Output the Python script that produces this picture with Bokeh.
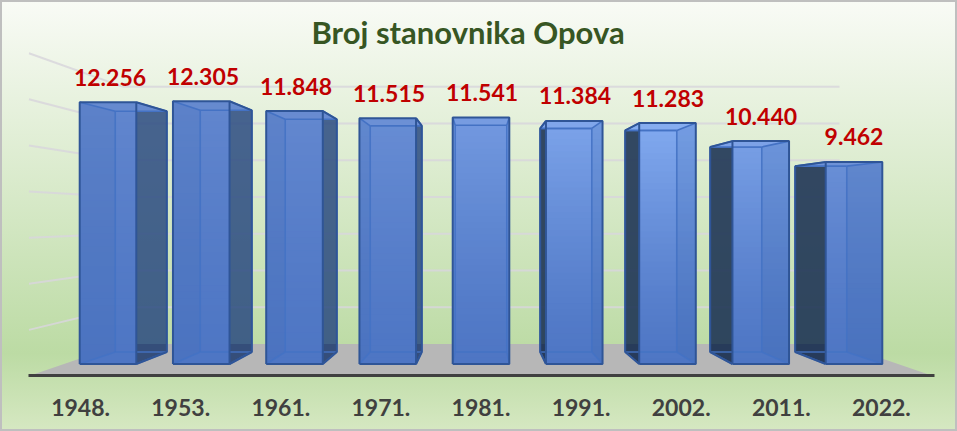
from bokeh.plotting import figure
from bokeh.embed import file_html
from bokeh.resources import INLINE
from bokeh.models import LinearAxis, Range1d, FixedTicker, Title, ColumnDataSource
from bokeh.core.properties import value

years = ["1948.", "1953.", "1961.", "1971.", "1981.", "1991.", "2002.", "2011.", "2022."]
population = [12256, 12305, 11848, 11515, 11541, 11384, 11283, 10440, 9462]
value_labels = ["12.256", "12.305", "11.848", "11.515", "11.541", "11.384", "11.283", "10.440", "9.462"]
grid_values = [0, 2000, 4000, 6000, 8000, 10000, 12000, 14000]
title_text = "Broj stanovnika Opova"

W, H = 957, 431
FL, FR, FT, FB = 28, 934, 50, 375      # plot frame edges in page pixels
CENTER_PX = 480.5
PX_PER_CAT = 93.25
PX_PER_VAL = 0.02135
MID = 4.0
BASE = 363.5

x_range = Range1d(MID + (FL - CENTER_PX) / PX_PER_CAT, MID + (FR - CENTER_PX) / PX_PER_CAT)
y_range = Range1d((BASE - FB) / PX_PER_VAL, (BASE - FT) / PX_PER_VAL)

p = figure(width=W, height=H, x_range=x_range, y_range=y_range, output_backend="svg",
           toolbar_location=None, x_axis_location=None, y_axis_location=None,
           min_border_left=FL, min_border_right=W - FR, min_border_top=FT, min_border_bottom=H - FB)
p.background_fill_alpha = 0
p.border_fill_alpha = 0
p.outline_line_alpha = 0
p.grid.visible = False
p.styles = {
    "position": "absolute", "left": "0", "top": "0",
    "background": "linear-gradient(180deg,#F9FBF6 0%,#BCDBA4 82%,#D6E8C2 100%)",
    "box-shadow": "inset 0 0 0 2px #BFBFBF",
}

# perspective planes: (category scale, value scale, value shift in px)
WALL_FRONT = (0.9715, 1.08, -12)
WALL_BACK = (0.7705, 0.861, 20)
BAR_FRONT = (1.0, 1.0, 0)
BAR_BACK = (0.9115, 0.92, 12)


def proj(cat, val, plane):
    sx, sy, shift = plane
    return MID + (cat - MID) * sx, val * sy + shift / PX_PER_VAL


LEFT_CAT, RIGHT_CAT = MID - 4.99, MID + 4.99

# left wall + back wall grid
xs_wall, ys_wall, xs_back, ys_back = [], [], [], []
for g in grid_values[1:]:
    x0, y0 = proj(LEFT_CAT, g, WALL_FRONT)
    x1, y1 = proj(LEFT_CAT, g, WALL_BACK)
    x2, y2 = proj(RIGHT_CAT, g, WALL_BACK)
    xs_wall.append([x0, x1])
    ys_wall.append([y0, y1])
    xs_back.append([x1, x2])
    ys_back.append([y1, y2])
p.multi_line(xs_wall, ys_wall, line_color="#D8D6DC", line_width=2, line_alpha=0.85)
p.multi_line(xs_back, ys_back, line_color="#D8D6DC", line_width=2, line_alpha=0.85)

# floor
corners = [proj(LEFT_CAT, 0, WALL_FRONT), proj(LEFT_CAT, 0, WALL_BACK),
           proj(RIGHT_CAT, 0, WALL_BACK), proj(RIGHT_CAT, 0, WALL_FRONT)]
p.patch([c[0] for c in corners], [c[1] for c in corners], fill_color="#B7B7B7", line_color=None)
FLOOR_BACK = corners[1][1]

HALF = 28.3 / PX_PER_CAT
OUT = "#2F5597"
INNER = "#4472C4"


def mix(a, b, t):
    return tuple(a[k] + (b[k] - a[k]) * t for k in range(3))


def hexc(c):
    return "#%02X%02X%02X" % tuple(int(round(v)) for v in c)


# how light each bar's top is
glow = [0.15, 0.15, 0.18, 0.3, 0.6, 0.85, 1.0, 0.75, 0.35]
BOTTOM = (78, 118, 196)
TOP_DIM = (92, 128, 200)
TOP_LIT = (130, 170, 240)

for i, v in enumerate(population):
    fl = i - HALF
    fr = i + HALF
    bl, by0 = proj(fl, 0, BAR_BACK)
    br, _ = proj(fr, 0, BAR_BACK)
    _, byt = proj(fl, v, BAR_BACK)
    _, fyt = proj(fl, v, BAR_FRONT)

    # side face
    if i < MID:
        sx = [fr, br, br, fr]
        col, a = "#2A4A80", 0.85
    elif i > MID:
        sx = [fl, bl, bl, fl]
        col, a = "#1F3555", 0.9
    else:
        sx = None
    if sx:
        p.patch(sx, [0, by0, byt, fyt], fill_color=col, fill_alpha=a, line_color=None)
        # the part of the side face that lies over the grey floor reads darker
        p.patch(sx, [0, by0, FLOOR_BACK, FLOOR_BACK], fill_color="#12264A", fill_alpha=0.22, line_color=None)

    # front face: colour steps painted from the tallest down, so no seams show
    top_col = mix(TOP_DIM, TOP_LIT, glow[i])
    n = 40
    tops = [v * (k + 1) / n for k in range(n)][::-1]
    cols = [hexc(mix(BOTTOM, top_col, ((k + 0.5) / n) ** 1.3)) for k in range(n)][::-1]
    p.quad(left=fl, right=fr, bottom=0, top=tops, fill_color=cols, line_color=None)

    # far side tint seen through the front
    if i > MID:
        p.patch([br, fr, fr, br], [by0, 0, fyt, byt], fill_color="#3A62A8", fill_alpha=0.18, line_color=None)
    elif i < MID:
        p.patch([fl, bl, bl, fl], [0, by0, byt, fyt], fill_color="#3A62A8", fill_alpha=0.12, line_color=None)

    # back edges seen through the front
    p.multi_line([[bl, bl], [br, br], [bl, br], [bl, br], [fl, bl], [fr, br]],
                 [[by0, byt], [by0, byt], [by0, by0], [byt, byt], [0, by0], [0, by0]],
                 line_color=INNER, line_width=1.6, line_alpha=0.9)

    # top face
    p.patch([fl, fr, br, bl], [fyt, fyt, byt, byt], fill_color=hexc(mix(top_col, (255, 255, 255), 0.03)),
            line_color=None)
    p.multi_line([[fl, bl], [fr, br], [bl, br]], [[fyt, byt], [fyt, byt], [byt, byt]],
                 line_color=INNER, line_width=1.6)

    # outer outline
    oxs = [[fl, fl, fr, fr, fl]]
    oys = [[0, fyt, fyt, 0, 0]]
    if i < MID:
        oxs.append([fr, br, br, fr])
        oys.append([fyt, byt, by0, 0])
    elif i > MID:
        oxs.append([fl, bl, bl, fl])
        oys.append([fyt, byt, by0, 0])
    p.multi_line(oxs, oys, line_color=OUT, line_width=2)

# value labels sit on a slightly tighter pitch than the bars
LABEL_X_SCALE = 0.9973
src = ColumnDataSource(dict(x=[proj(i, 0, (LABEL_X_SCALE, 1, 0))[0] for i in range(len(population))],
                            y=population, t=value_labels))
p.text("x", "y", text="t", source=src, text_font=value("Lato"), text_font_style="bold",
       text_font_size="23px", text_color="#C00000", text_align="center",
       text_baseline="middle", x_offset=1, y_offset=-25)

# category axis (labels are spaced wider than the bars in the 3D view)
LABEL_PITCH = 100.1
p.extra_x_ranges["labels"] = Range1d(MID + (FL - CENTER_PX) / LABEL_PITCH, MID + (FR - CENTER_PX) / LABEL_PITCH)
ax = LinearAxis(x_range_name="labels", ticker=FixedTicker(ticks=list(range(len(years)))),
                major_label_overrides={i: y for i, y in enumerate(years)})
ax.axis_line_color = "#404040"
ax.axis_line_width = 3
ax.major_tick_line_color = None
ax.minor_tick_line_color = None
ax.major_label_text_font = "Lato"
ax.major_label_text_font_style = "bold"
ax.major_label_text_font_size = "23px"
ax.major_label_text_color = "#404040"
ax.major_label_standoff = 17
p.add_layout(ax, "below")

t = Title(text=title_text, align="left", offset=283, vertical_align="bottom", text_font="Lato",
          text_font_style="bold", text_font_size="31px", text_color="#375623", standoff=0,
          padding=(0, 0, 8, 0))
p.add_layout(t, "above")

open("out.html", "w").write(file_html(p, INLINE))
